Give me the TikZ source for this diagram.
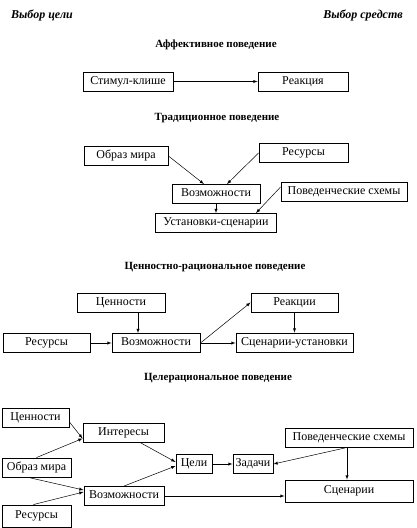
\documentclass[tikz,border=0pt]{standalone}
\usepackage{fontspec}
\setmainfont{Liberation Serif}
\usetikzlibrary{arrows,positioning,calc}
\tikzset{% boxes and arrows of the schemes
	blk/.style={draw,line width=0.9pt,inner sep=2pt,minimum height=19pt,
		font=\fontsize{12}{14}\selectfont,text height=0.7em,text depth=.2em},
	ttl/.style={font=\bfseries\fontsize{11}{13}\selectfont},
	side/.style={font=\bfseries\itshape\fontsize{12}{14}\selectfont},
	arr/.style={->,>=latex,line width=0.5pt}
}
\begin{document}
\begin{tikzpicture}[x=1pt,y=-1pt]
\useasboundingbox (0,0) rectangle (416,528);
% column titles
\node[side] (gl) at (42,15) {Выбор цели};
\node[side] (sr) at (363,15) {Выбор средств};
% affective
\node[ttl] (t1) at (216,45) {Аффективное поведение};
\node[blk,minimum width=90pt] (stim) at (128,81.5) {Стимул-клише};
\node[blk,minimum width=90pt] (reak) at (303,81.5) {Реакция};
\draw[arr] (stim) -- (reak);
% traditional
\node[ttl] (t2) at (217,118) {Традиционное поведение};
\node[blk,minimum width=84pt] (obr1) at (126,156) {Образ мира};
\node[blk,minimum width=89pt] (res1) at (303.5,153) {Ресурсы};
\node[blk,minimum width=88pt] (voz1) at (216,194) {Возможности};
\node[blk,minimum width=126pt] (pov1) at (344,192) {Поведенческие схемы};
\node[blk,minimum width=121pt] (ust1) at (216,223) {Установки-сценарии};
\draw[arr] (obr1.east) -- ([xshift=-12pt]voz1.north);
\draw[arr] (res1.west) -- ([xshift=11pt]voz1.north);
\draw[arr] (voz1) -- (ust1);
\draw[arr] ([yshift=5pt]pov1.west) -- ([xshift=40pt]ust1.north);
% value-rational
\node[ttl] (t3) at (215,267) {Ценностно-рациональное поведение};
\node[blk,minimum width=88pt] (cen2) at (121,302.5) {Ценности};
\node[blk,minimum width=87pt] (res2) at (46.5,343) {Ресурсы};
\node[blk,minimum width=88pt] (voz2) at (156,343) {Возможности};
\node[blk,minimum width=87pt] (rea2) at (294.5,302.5) {Реакции};
\node[blk,minimum width=117pt] (scen2) at (294.5,342.5) {Сценарии-установки};
\draw[arr] ([xshift=17pt]cen2.south) -- ([xshift=-18pt]voz2.north);
\draw[arr] (res2) -- (voz2);
\draw[arr] (voz2.east) -- (rea2.west);
\draw[arr] (voz2.east) -- (voz2.east -| scen2.west);
\draw[arr] (rea2) -- (scen2);
% goal-rational
\node[ttl] (t4) at (218,378) {Целерациональное поведение};
\node[blk,minimum width=67pt] (cen3) at (35.5,417.5) {Ценности};
\node[blk,minimum width=81pt] (int3) at (123.5,432.5) {Интересы};
\node[blk,minimum width=69pt] (obr3) at (36.5,467.5) {Образ мира};
\node[blk,minimum width=36pt,inner sep=1pt] (cel3) at (194,464) {Цели};
\node[blk,minimum width=40pt,inner sep=1pt] (zad3) at (253,464) {Задачи};
\node[blk,minimum width=128pt] (pov3) at (349,438) {Поведенческие схемы};
\node[blk,minimum width=80pt] (voz3) at (124,496) {Возможности};
\node[blk,minimum width=128pt,minimum height=22pt] (scen3) at (349,491) {Сценарии};
\node[blk,minimum width=69pt,minimum height=22pt] (res3) at (36.5,516) {Ресурсы};
\draw[arr] ([yshift=-4.5pt]cen3.east) -- ([yshift=-6pt]int3.west);
\draw[arr] (obr3.north) -- ([yshift=-6pt]int3.west);
\draw[arr] ([xshift=16.5pt]int3.south) -- ([yshift=2pt]cel3.west);
\draw[arr] ([xshift=-8pt]obr3.south) -- ([yshift=6pt]voz3.west);
\draw[arr] ([xshift=-3pt]res3.north) -- ([yshift=4pt]voz3.west);
\draw[arr] (voz3.north) -- ([yshift=-2pt]cel3.west);
\draw[arr] (cel3) -- (zad3);
\draw[arr] ([xshift=-4pt]pov3.south) -- (zad3.east);
\draw[arr] ([xshift=-2pt]pov3.south) -- ([xshift=-2pt]pov3.south |- scen3.north);
\draw[arr] (voz3.east) -- (voz3.east -| scen3.west);
\end{tikzpicture}
\end{document}
